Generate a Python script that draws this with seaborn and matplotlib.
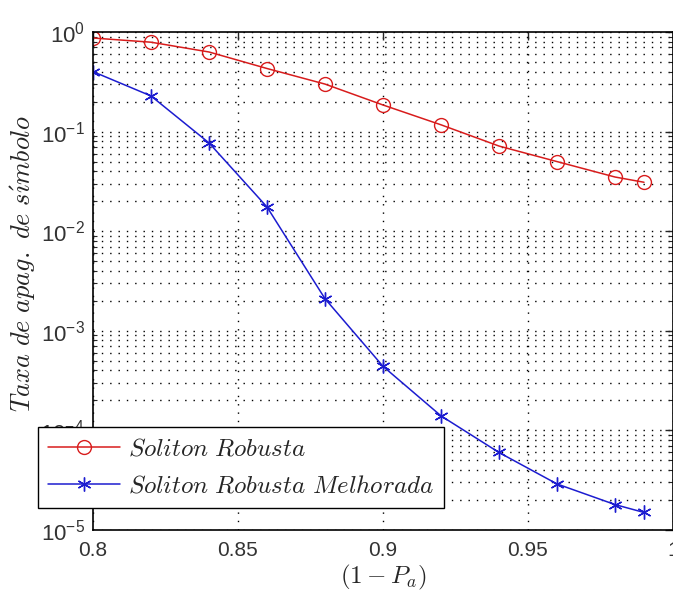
import matplotlib
matplotlib.use("Agg")
import matplotlib.pyplot as plt
import seaborn as sns
import numpy as np
import pandas as pd
from matplotlib.ticker import FixedLocator, FuncFormatter, LogLocator, NullFormatter

x_vals = [0.80, 0.82, 0.84, 0.86, 0.88, 0.90, 0.92, 0.94, 0.96, 0.98, 0.99]
robusta = [0.87, 0.79, 0.63, 0.43, 0.30, 0.185, 0.117, 0.0716, 0.050, 0.035, 0.031]
melhorada = [0.40, 0.228, 0.077, 0.0175, 0.0021, 4.4e-4, 1.4e-4, 6.0e-5, 2.9e-5, 1.8e-5, 1.5e-5]
series_names = [r"$Soliton\ Robusta$", r"$Soliton\ Robusta\ Melhorada$"]
x_ticks = [0.8, 0.85, 0.9, 0.95, 1.0]
x_tick_labels = ["0.8", "0.85", "0.9", "0.95", "1"]
y_decades = [0, -1, -2, -3, -4, -5]

sns.set_style("white")
plt.rcParams["mathtext.fontset"] = "cm"
plt.rcParams["mathtext.rm"] = "Liberation Sans"
plt.rcParams["mathtext.it"] = "Liberation Sans:italic"
plt.rcParams["mathtext.bf"] = "Liberation Sans:bold"
plt.rcParams["font.family"] = ["Liberation Sans", "DejaVu Sans"]

df = pd.DataFrame({
    "x": x_vals * 2,
    "y": robusta + melhorada,
    "serie": [series_names[0]] * len(x_vals) + [series_names[1]] * len(x_vals),
})

fig = plt.figure(figsize=(6.73, 5.92), dpi=100)
ax = fig.add_axes([93 / 673, 1 - 530 / 592, 1 - 93 / 673, (530 - 32) / 592])

red = "#d81c1c"
blue = "#1c1cd0"
sns.lineplot(data=df[df.serie == series_names[0]], x="x", y="y", ax=ax, color=red,
             marker="o", markersize=10, markerfacecolor="none", markeredgecolor=red,
             markeredgewidth=1.0, linewidth=1.1, label=series_names[0])
sns.lineplot(data=df[df.serie == series_names[1]], x="x", y="y", ax=ax, color=blue,
             marker=(6, 2, 0), markersize=10, markeredgecolor=blue,
             markeredgewidth=1.0, linewidth=1.1, label=series_names[1])

ax.set_yscale("log")
ax.set_xlim(0.8, 1.0)
ax.set_ylim(1e-5, 1.0)

ax.xaxis.set_major_locator(FixedLocator(x_ticks))
ax.set_xticklabels(x_tick_labels)
ax.yaxis.set_major_locator(FixedLocator([10.0 ** d for d in y_decades]))
ax.yaxis.set_minor_locator(LogLocator(base=10, subs=np.arange(2, 10), numticks=20))
ax.yaxis.set_minor_formatter(NullFormatter())
ax.yaxis.set_major_formatter(FuncFormatter(lambda v, p: r"$\mathrm{10^{%d}}$" % int(round(np.log10(v)))))

ax.tick_params(axis="both", which="major", direction="in", length=6, width=1,
               top=True, right=True, labelsize=15, labelcolor="#333333", pad=8)
ax.tick_params(axis="y", which="major", labelsize=16, pad=6)
ax.tick_params(axis="y", which="minor", direction="in", length=3, width=0.8, right=True, left=True)

ax.grid(True, which="major", axis="both", color="black", linestyle=(0, (1, 5)), linewidth=1.0)
ax.grid(True, which="minor", axis="y", color="black", linestyle=(0, (1, 5)), linewidth=1.0)

for s in ax.spines.values():
    s.set_color("black")
    s.set_linewidth(1.2)

ax.set_xlabel(r"$(1-P_a)$", fontsize=18, labelpad=2)
ax.set_ylabel(r"$Taxa\ de\ apag.\ de\ s\acute{\imath}mbolo$", fontsize=19)
ax.yaxis.set_label_coords(-0.095, (530 - 263) / 498)

leg = ax.legend(loc="upper left", bbox_to_anchor=(38 / 673, 1 - 427 / 592),
                bbox_transform=fig.transFigure, borderaxespad=0, fontsize=18,
                frameon=True, fancybox=False, framealpha=1, edgecolor="black",
                handlelength=2.9, handletextpad=0.3, borderpad=0.4, labelspacing=0.5)
leg.get_frame().set_linewidth(1.0)

fig.canvas.draw()
for lab in ax.get_yticklabels():
    lab.set_math_fontfamily("custom")

fig.savefig("out.png", dpi=100)
